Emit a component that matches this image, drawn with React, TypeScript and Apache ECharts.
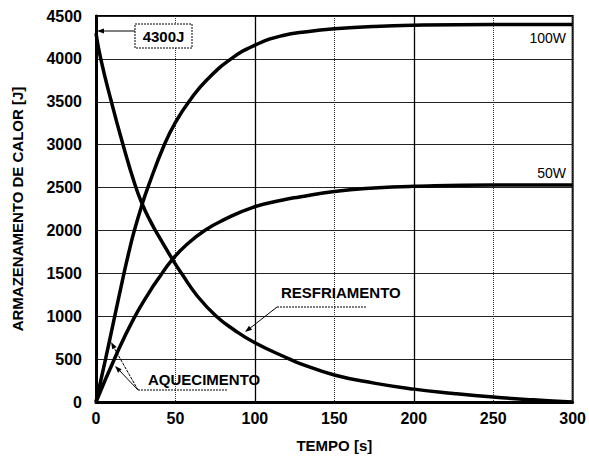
import React, { useEffect, useRef } from "react";
import * as echarts from "echarts";

// Time (s) and heat storage (J)
const t100W = [0, 6, 11.8, 17.6, 21, 24, 29.3, 33, 42.8, 50, 59.6, 70, 85, 100, 117, 134, 150, 175, 200, 250, 300];
const heat100W = [0, 500, 1000, 1500, 1770, 1990, 2320, 2520, 2990, 3260, 3530, 3760, 4000, 4160, 4270, 4320, 4350, 4378, 4392, 4400, 4400];

const t50W = [0, 12.5, 24, 33.9, 39, 48.1, 58, 68.4, 80, 98.8, 117.6, 128, 150, 175, 200, 250, 300];
const heat50W = [0, 540, 980, 1290, 1430, 1663, 1850, 2000, 2120, 2270, 2355, 2390, 2455, 2495, 2515, 2530, 2530];

const tCool = [0, 3, 9.4, 16.7, 24.6, 29.3, 33.9, 38, 48.1, 53.8, 64, 75.7, 87, 100, 121.8, 128, 150, 175, 200, 225, 250, 275, 300];
const heatCool = [4300, 4000, 3520, 3020, 2530, 2300, 2120, 1980, 1663, 1500, 1230, 1000, 840, 691, 500, 451, 315, 220, 150, 100, 58, 25, 0];

const xTicksMax = 300;
const yTicksMax = 4500;

const FONT = "Liberation Sans, Arial, sans-serif";

function pairs(xs: number[], ys: number[]) {
  return xs.map((x, i) => [x, ys[i]]);
}

function arrowHead(tipX: number, tipY: number, fromX: number, fromY: number, len = 7, half = 2.5) {
  const dx = tipX - fromX;
  const dy = tipY - fromY;
  const d = Math.sqrt(dx * dx + dy * dy) || 1;
  const ux = dx / d, uy = dy / d;
  const bx = tipX - ux * len, by = tipY - uy * len;
  const px = -uy, py = ux;
  return {
    type: "polygon",
    shape: { points: [[tipX, tipY], [bx + px * half, by + py * half], [bx - px * half, by - py * half]] },
    style: { fill: "#000" },
    z: 100,
  };
}

export default function App() {
  const ref = useRef<HTMLDivElement>(null);
  useEffect(() => {
    if (!ref.current) return;
    const chart = echarts.init(ref.current, undefined, { renderer: "svg" });
    const lineStyle = { color: "#000", width: 3.5 };
    const plain = (v: number) => String(v);
    const option: any = {
      animation: false,
      backgroundColor: "#fff",
      grid: { left: 96, right: 15, top: 16, bottom: 65, show: true, borderColor: "#000", borderWidth: 2 },
      xAxis: {
        type: "value",
        min: 0,
        max: xTicksMax,
        interval: 50,
        name: "TEMPO [s]",
        nameLocation: "middle",
        nameGap: 36,
        nameTextStyle: { fontFamily: FONT, fontSize: 15, fontWeight: "bold", color: "#000" },
        axisLine: { show: true, lineStyle: { color: "#000", width: 3 } },
        axisTick: { show: false },
        axisLabel: { fontFamily: FONT, fontSize: 16, fontWeight: "bold", color: "#000", margin: 8, formatter: plain },
        splitLine: { show: true, lineStyle: { color: "#333", width: 1, type: "dotted" } },
      },
      yAxis: {
        type: "value",
        min: 0,
        max: yTicksMax,
        interval: 500,
        name: "ARMAZENAMENTO DE CALOR [J]",
        nameLocation: "middle",
        nameGap: 71,
        nameRotate: 90,
        nameTextStyle: { fontFamily: FONT, fontSize: 15, fontWeight: "bold", color: "#000" },
        axisLine: { show: true, lineStyle: { color: "#000", width: 3 } },
        axisTick: { show: false },
        axisLabel: { fontFamily: FONT, fontSize: 16, fontWeight: "bold", color: "#000", margin: 14, formatter: plain },
        splitLine: { show: true, lineStyle: { color: "#222", width: 1, type: "solid" } },
      },
      series: [
        {
          type: "line",
          name: "100W",
          data: pairs(t100W, heat100W),
          showSymbol: false,
          smooth: 0.5,
          lineStyle,
          z: 5,
          markLine: {
            silent: true,
            symbol: "none",
            label: { show: false },
            lineStyle: { color: "#000", width: 1.3, type: "solid" },
            data: [{ xAxis: 100 }, { xAxis: 200 }],
            z: 1,
          },
        },
        {
          type: "line",
          name: "50W",
          data: pairs(t50W, heat50W),
          showSymbol: false,
          smooth: 0.5,
          lineStyle,
          z: 5,
        },
        {
          type: "line",
          name: "RESFRIAMENTO",
          data: pairs(tCool, heatCool),
          showSymbol: false,
          smooth: 0.5,
          lineStyle,
          z: 5,
        },
      ],
      graphic: [
        { type: "rect", shape: { x: 135, y: 24, width: 57, height: 24 }, style: { fill: "#fff", stroke: "#000", lineWidth: 1, lineDash: [2, 1] }, z: 100 },
        { type: "text", x: 163.5, y: 36, style: { text: "4300J", fontFamily: FONT, fontSize: 15, fontWeight: "bold", fill: "#000", align: "center", verticalAlign: "middle" }, z: 101 },
        { type: "line", shape: { x1: 135, y1: 31, x2: 102, y2: 31 }, style: { stroke: "#000", lineWidth: 1 }, z: 100 },
        arrowHead(97, 31, 135, 31),
        { type: "text", x: 566, y: 38, style: { text: "100W", fontFamily: FONT, fontSize: 14, fill: "#000", align: "right", verticalAlign: "middle" }, z: 100 },
        { type: "text", x: 566, y: 173, style: { text: "50W", fontFamily: FONT, fontSize: 14, fill: "#000", align: "right", verticalAlign: "middle" }, z: 100 },
        { type: "text", x: 281, y: 292, style: { text: "RESFRIAMENTO", fontFamily: FONT, fontSize: 15, fontWeight: "bold", fill: "#000", align: "left", verticalAlign: "middle" }, z: 100 },
        { type: "line", shape: { x1: 277, y1: 307, x2: 367, y2: 307 }, style: { stroke: "#000", lineWidth: 1, lineDash: [2, 1] }, z: 100 },
        { type: "line", shape: { x1: 277, y1: 307, x2: 249, y2: 329 }, style: { stroke: "#000", lineWidth: 1 }, z: 100 },
        arrowHead(245, 332, 277, 307),
        { type: "text", x: 148, y: 379, style: { text: "AQUECIMENTO", fontFamily: FONT, fontSize: 15, fontWeight: "bold", fill: "#000", align: "left", verticalAlign: "middle" }, z: 100 },
        { type: "line", shape: { x1: 138, y1: 390, x2: 227, y2: 390 }, style: { stroke: "#000", lineWidth: 1, lineDash: [2, 1] }, z: 100 },
        { type: "line", shape: { x1: 138, y1: 390, x2: 113, y2: 346 }, style: { stroke: "#000", lineWidth: 1, lineDash: [3, 1] }, z: 100 },
        arrowHead(111, 342, 138, 390),
        { type: "line", shape: { x1: 138, y1: 390, x2: 119, y2: 370 }, style: { stroke: "#000", lineWidth: 1 }, z: 100 },
        arrowHead(115, 366, 138, 390),
      ],
    };
    chart.setOption(option);
    return () => chart.dispose();
  }, []);
  return <div ref={ref} style={{ position: "absolute", left: 0, top: 0, width: 589, height: 467 }} />;
}
